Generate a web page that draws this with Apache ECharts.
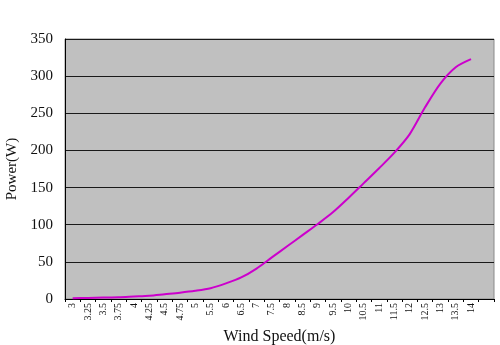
<!DOCTYPE html>
<html>
<head>
<meta charset="utf-8">
<script src="https://cdn.jsdelivr.net/npm/echarts@6/dist/echarts.min.js"></script>
<style>html,body{margin:0;padding:0;background:#fff}#c{width:500px;height:345px}</style>
</head>
<body>
<div id="c"></div>
<script>
const categories = ['3','3.25','3.5','3.75','4','4.25','4.5','4.75','5','5.5','6','6.5','7','7.5','8','8.5','9','9.5','10','10.5','11','11.5','12','12.5','13','13.5','14',''];
const power = [1,1.5,2,2.5,3.5,4.5,6.5,8.5,11,14.5,21,29,41,56,71,86,101,117,136,156,176,197,222,258,290,312,323,null];
const yTicks = [0,50,100,150,200,250,300,350];

const chart = echarts.init(document.getElementById('c'));
chart.setOption({
  animation: false,
  backgroundColor: '#fff',
  grid: {left: 65, right: 6, top: 39, bottom: 46, containLabel: false, outerBoundsMode: 'none',
    show: true, backgroundColor: '#c0c0c0', borderColor: '#8a8a8a', borderWidth: 1},
  xAxis: {
    type: 'category', data: categories, boundaryGap: true,
    name: 'Wind Speed(m/s)', nameLocation: 'middle', nameGap: 28,
    nameTextStyle: {fontFamily: 'Liberation Serif', fontSize: 16, color: '#111'},
    axisLine: {lineStyle: {color: '#000', width: 1}},
    axisTick: {show: true, length: 3, lineStyle: {color: '#000'}},
    axisLabel: {rotate: 90, fontFamily: 'Liberation Serif', fontSize: 10, color: '#111', margin: 4, interval: 0},
    splitLine: {show: false}
  },
  yAxis: {
    type: 'value', min: 0, max: 350, interval: 50,
    name: 'Power(W)', nameLocation: 'middle', nameGap: 45, nameRotate: 90,
    nameTextStyle: {fontFamily: 'Liberation Serif', fontSize: 15, color: '#111'},
    axisLine: {show: true, lineStyle: {color: '#000', width: 1}},
    axisTick: {show: false},
    axisLabel: {fontFamily: 'Liberation Serif', fontSize: 15, color: '#111', margin: 12,
      formatter: v => yTicks.includes(v) ? String(v) : ''},
    splitLine: {show: true, lineStyle: {color: '#1a1a1a', width: 1}}
  },
  series: [{
    type: 'line', data: power, smooth: 0.3, symbol: 'none',
    lineStyle: {color: '#cc00cc', width: 2}
  }]
});
</script>
</body>
</html>
